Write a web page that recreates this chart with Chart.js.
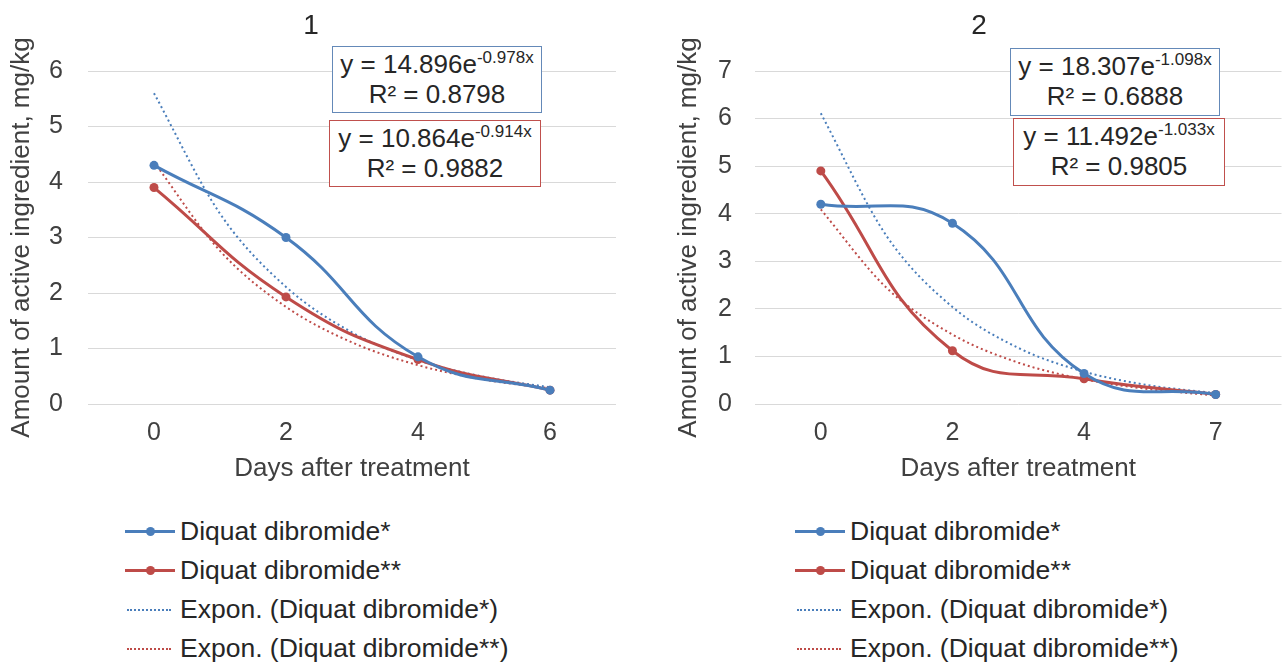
<!DOCTYPE html>
<html>
<head>
<meta charset="utf-8">
<title>Diquat dibromide residues</title>
<script src="https://cdn.jsdelivr.net/npm/chart.js@4.4.1/dist/chart.umd.min.js"></script>
<style>
    body {
        margin: 0;
        width: 1286px;
        height: 667px;
        position: relative;
        overflow: hidden;
        background: #fff;
        font-family: "Liberation Sans", Arial, sans-serif;
        color: #262626;
    }
    .wrap { position: absolute; top: 0; }
    #wrap1 { left: 0; }
    #wrap2 { left: 640px; }
    .eq {
        position: absolute;
        background: #fff;
        border: 1.5px solid;
        box-sizing: border-box;
        text-align: center;
        font-size: 26px;
        line-height: 30px;
        padding-top: 2px;
        white-space: nowrap;
    }
    .eq sup { font-size: 17px; line-height: 0; vertical-align: 10px; }
    .blue-box { border-color: #6489b8; }
    .red-box { border-color: #c0504d; }
    .legend { position: absolute; top: 512px; font-size: 26.5px; }
    .row { height: 39px; display: flex; align-items: center; white-space: nowrap; }
    .swatch { position: relative; width: 50px; height: 12px; margin-right: 5px; }
    .swatch .line { position: absolute; left: 0; right: 0; top: 4.5px; height: 3px; }
    .swatch .dot { position: absolute; left: 20.5px; top: 1.5px; width: 9px; height: 9px; border-radius: 50%; }
    .swatch .dots { position: absolute; left: 2px; right: 4px; top: 5px; border-top: 2px dotted; }
</style>
</head>
<body>

<div class="wrap" id="wrap1"><canvas id="chart1" width="630" height="490"></canvas></div>
<div class="wrap" id="wrap2"><canvas id="chart2" width="646" height="490"></canvas></div>

<!-- trendline labels, as Excel prints them -->
<div class="eq blue-box" style="left:332px; top:46px; width:210px; height:67px;">y = 14.896e<sup>-0.978x</sup><br>R² = 0.8798</div>
<div class="eq red-box" style="left:329px; top:120px; width:212px; height:67px;">y = 10.864e<sup>-0.914x</sup><br>R² = 0.9882</div>
<div class="eq blue-box" style="left:1010px; top:48px; width:210px; height:68px;">y = 18.307e<sup>-1.098x</sup><br>R² = 0.6888</div>
<div class="eq red-box" style="left:1013px; top:118px; width:212px; height:68px;">y = 11.492e<sup>-1.033x</sup><br>R² = 0.9805</div>

<div class="legend" id="legend1" style="left:125px;"></div>
<div class="legend" id="legend2" style="left:795px;"></div>

<script>
// x categories (days after treatment)
const days1 = ['0', '2', '4', '6'];
const days2 = ['0', '2', '4', '7'];

// measured residues, mg/kg
const diquatA1 = [4.3, 3.0, 0.85, 0.25];
const diquatB1 = [3.9, 1.93, 0.8, 0.25];
const diquatA2 = [4.2, 3.8, 0.64, 0.2];
const diquatB2 = [4.9, 1.12, 0.53, 0.2];

// exponential trendlines every half category
// (Excel puts category n at x = n, first category at 1)
const trendPos = [1, 1.5, 2, 2.5, 3, 3.5, 4];
const trendA1 = [5.60, 3.43, 2.11, 1.29, 0.79, 0.49, 0.30];
const trendB1 = [4.36, 2.76, 1.75, 1.11, 0.70, 0.44, 0.28];
const trendA2 = [6.11, 3.53, 2.04, 1.18, 0.68, 0.39, 0.23];
const trendB2 = [4.09, 2.44, 1.46, 0.87, 0.52, 0.31, 0.18];

const seriesNames = [
    'Diquat dibromide*',
    'Diquat dibromide**',
    'Expon. (Diquat dibromide*)',
    'Expon. (Diquat dibromide**)'
];

const BLUE = '#4a7ebb';
const RED = '#be4b48';
const TEXT = '#404040';

function toPoints(vals) {
    return vals.map((v, i) => ({ x: i + 1, y: v }));
}

function trendPoints(vals) {
    return vals.map((v, i) => ({ x: trendPos[i], y: v }));
}

function mainSeries(label, vals, color) {
    return {
        label: label,
        data: toPoints(vals),
        borderColor: color,
        backgroundColor: color,
        borderWidth: 3,
        pointRadius: 4.5,
        pointBorderWidth: 0,
        tension: 0.45
    };
}

function trendSeries(label, vals, color) {
    return {
        label: label,
        data: trendPoints(vals),
        borderColor: color,
        borderWidth: 2,
        borderDash: [2, 3],
        pointRadius: 0,
        cubicInterpolationMode: 'monotone'
    };
}

function makeChart(id, cfg) {
    const ctx = document.getElementById(id);
    return new Chart(ctx, {
        type: 'line',
        data: {
            datasets: [
                mainSeries(seriesNames[0], cfg.a, BLUE),
                mainSeries(seriesNames[1], cfg.b, RED),
                trendSeries(seriesNames[2], cfg.ta, BLUE),
                trendSeries(seriesNames[3], cfg.tb, RED)
            ]
        },
        options: {
            responsive: false,
            animation: false,
            layout: { padding: { left: cfg.padLeft, right: cfg.padRight, top: 0, bottom: 0 } },
            plugins: {
                legend: { display: false }, // drawn as html below
                tooltip: { enabled: false },
                title: {
                    display: true,
                    text: cfg.title,
                    color: '#262626',
                    font: { family: 'Liberation Sans', size: 28, weight: 'normal' },
                    padding: { top: 9, bottom: 28.4 }
                }
            },
            scales: {
                x: {
                    type: 'linear',
                    min: 0.5,
                    max: cfg.days.length + 0.5,
                    afterBuildTicks: axis => {
                        axis.ticks = cfg.days.map((d, i) => ({ value: i + 1 }));
                    },
                    afterFit: axis => { axis.height = 86; },
                    grid: { display: false, drawTicks: false },
                    border: { display: false },
                    ticks: {
                        callback: v => cfg.days[Math.round(v) - 1],
                        autoSkip: false,
                        maxRotation: 0,
                        padding: 14,
                        color: TEXT,
                        font: { family: 'Liberation Sans', size: 25 }
                    },
                    title: {
                        display: true,
                        text: 'Days after treatment',
                        color: TEXT,
                        font: { family: 'Liberation Sans', size: 26 },
                        padding: { top: 0, bottom: 6 }
                    }
                },
                y: {
                    min: 0,
                    max: cfg.yMax,
                    afterFit: axis => { axis.width = cfg.yWidth; },
                    grid: { color: '#d9d9d9', lineWidth: 1, drawTicks: false },
                    border: { display: false },
                    ticks: {
                        stepSize: 1,
                        padding: cfg.tickPad,
                        color: TEXT,
                        font: { family: 'Liberation Sans', size: 25 }
                    },
                    title: {
                        display: true,
                        text: 'Amount of active ingredient, mg/kg',
                        color: TEXT,
                        font: { family: 'Liberation Sans', size: 26 },
                        padding: { top: cfg.yTitlePad, bottom: 0 }
                    }
                }
            }
        }
    });
}

makeChart('chart1', {
    title: '1', days: days1,
    a: diquatA1, b: diquatB1, ta: trendA1, tb: trendB1,
    yMax: 6, padLeft: 6, padRight: 14, yWidth: 82, tickPad: 25, yTitlePad: 0
});

makeChart('chart2', {
    title: '2', days: days2,
    a: diquatA2, b: diquatB2, ta: trendA2, tb: trendB2,
    yMax: 7, padLeft: 32, padRight: 0, yWidth: 83, tickPad: 23, yTitlePad: 1.5
});

// Legend, one entry per row like the Excel original
function buildLegend(id) {
    const box = document.getElementById(id);
    const colors = [BLUE, RED, BLUE, RED];
    seriesNames.forEach((name, i) => {
        const row = document.createElement('div');
        row.className = 'row';
        const sw = document.createElement('div');
        sw.className = 'swatch';
        if (i < 2) {
            sw.innerHTML = '<div class="line" style="background:' + colors[i] + '"></div>' +
                '<div class="dot" style="background:' + colors[i] + '"></div>';
        } else {
            sw.innerHTML = '<div class="dots" style="border-color:' + colors[i] + '"></div>';
        }
        const txt = document.createElement('span');
        txt.textContent = name;
        row.appendChild(sw);
        row.appendChild(txt);
        box.appendChild(row);
    });
}

buildLegend('legend1');
buildLegend('legend2');
</script>
</body>
</html>
